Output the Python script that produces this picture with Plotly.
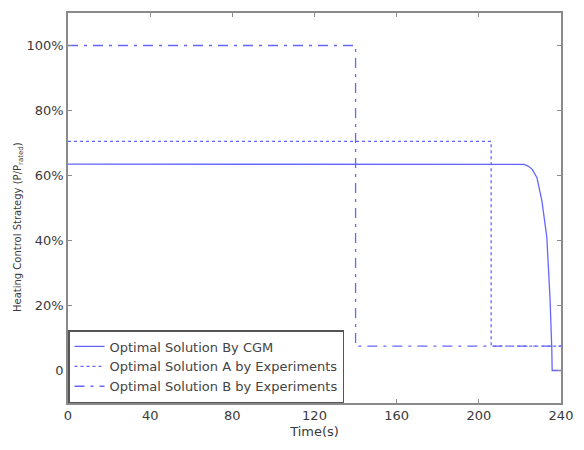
import plotly.graph_objects as go

# CGM optimal solution
cgm_t = [0, 222, 224, 226, 228.3, 230.7, 233.1, 234.7, 235.5, 235.7, 240]
cgm_v = [63.5, 63.4, 62.9, 61.9, 59.3, 52.2, 41.0, 21.6, 6.9, 0, 0]
# Solution A by experiments (step)
a_t = [0, 206, 240]
a_v = [70.5, 7.5, 7.5]
# Solution B by experiments (step)
b_t = [0, 140, 240]
b_v = [100, 7.5, 7.5]

x_ticks = [0, 40, 80, 120, 160, 200, 240]
y_ticks = [0, 20, 40, 60, 80, 100]
y_labels = ["0", "20%", "40%", "60%", "80%", "100%"]

names = ["Optimal Solution By CGM", "Optimal Solution A by Experiments",
         "Optimal Solution B by Experiments"]

color = "#6666ff"
font_family = "DejaVu Sans"
fig = go.Figure()
fig.add_trace(go.Scatter(x=cgm_t, y=cgm_v, mode="lines", name=names[0],
                         line=dict(color=color, width=1.3)))
fig.add_trace(go.Scatter(x=a_t, y=a_v, mode="lines", name=names[1], line_shape="hv",
                         line=dict(color=color, width=1.3, dash="3px,3px")))
fig.add_trace(go.Scatter(x=b_t, y=b_v, mode="lines", name=names[2], line_shape="hv",
                         line=dict(color=color, width=1.3, dash="10px,6px,3px,6px")))

txt = "#3a3a3a"
axis_common = dict(showline=True, linecolor="#8a8a8a", linewidth=1.5, mirror="ticks",
                   ticks="inside", ticklen=4, tickcolor="#8a8a8a", showgrid=False,
                   zeroline=False, tickfont=dict(family=font_family, size=13, color=txt))
fig.update_xaxes(range=[0, 240], tickvals=x_ticks,
                 title=dict(text="Time(s)", font=dict(family=font_family, size=13, color=txt),
                            standoff=5), **axis_common)
fig.update_yaxes(range=[-10, 110], tickvals=y_ticks, ticktext=y_labels, **axis_common)

fig.add_annotation(text="Heating Control Strategy (P/P<sub>rated</sub>)",
                   xref="paper", yref="paper", x=0, y=0.5, xanchor="center", yanchor="middle",
                   xshift=-50, yshift=-19, textangle=-90, showarrow=False,
                   font=dict(family=font_family, size=10, color=txt))

fig.update_layout(
    width=584, height=450,
    margin=dict(l=68, r=14, t=11, b=47),
    plot_bgcolor="white", paper_bgcolor="white",
    legend=dict(x=0, y=0, xanchor="left", yanchor="bottom",
                bgcolor="white", bordercolor="#555555", borderwidth=1.5,
                font=dict(family=font_family, size=13, color="#444444"),
                tracegroupgap=0, itemwidth=30),
    showlegend=True,
)
fig.write_html("out.html")
